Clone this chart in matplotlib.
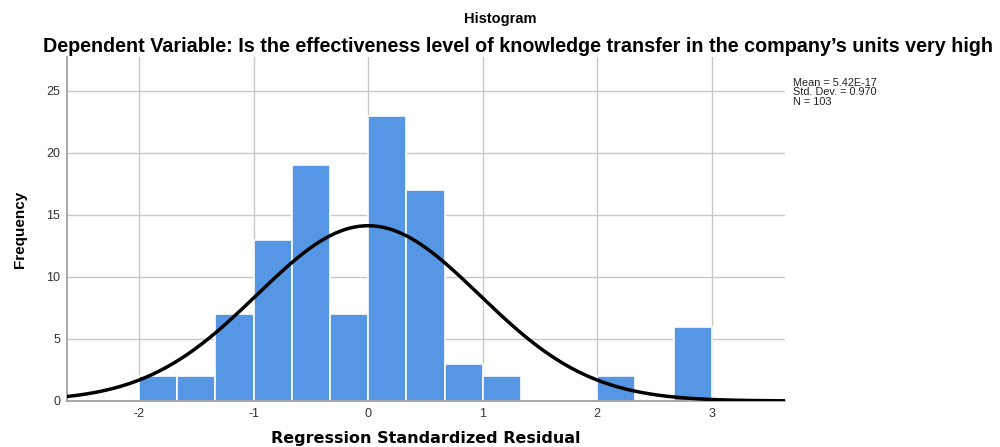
import numpy as np
import matplotlib
matplotlib.use("Agg")
import matplotlib.pyplot as plt

# histogram bins (width 1/3) and counts
bin_edges = np.arange(-2.0, 3.0 + 1e-9, 1.0 / 3.0)
counts = [2, 2, 7, 13, 19, 7, 23, 17, 3, 2, 0, 0, 2, 0, 6]
mean = 5.42e-17
std_dev = 0.970
n = 103
stats_lines = ["Mean = 5.42E-17", "Std. Dev. = 0.970", "N = 103"]

xticks = [-2, -1, 0, 1, 2, 3]
yticks = [0, 5, 10, 15, 20, 25]

plt.rcParams['font.family'] = ['Liberation Sans', 'DejaVu Sans']
plt.rcParams['axes.unicode_minus'] = False

fig = plt.figure(figsize=(10, 4.47), dpi=100)
ax = fig.add_axes([0.067, 0.103, 0.718, 0.769])

ax.set_xlim(-2.63, 3.64)
ax.set_ylim(0, 27.7)
ax.set_xticks(xticks)
ax.set_yticks(yticks)
ax.grid(True, color="#c8c8c8", linewidth=1.0)
ax.set_axisbelow(True)

lefts = bin_edges[:-1]
width = bin_edges[1] - bin_edges[0]
ax.bar(lefts, counts, width=width, align="edge", color="#5596e5",
       edgecolor="white", linewidth=1.2, zorder=2)

# normal curve scaled to counts
xs = np.linspace(-2.63, 3.64, 400)
pdf = np.exp(-0.5 * ((xs - mean) / std_dev) ** 2) / (std_dev * np.sqrt(2 * np.pi))
ax.plot(xs, n * width * pdf, color="black", linewidth=2.5, zorder=3)

for s in ["top", "right"]:
    ax.spines[s].set_visible(False)
for s in ["left", "bottom"]:
    ax.spines[s].set_color("#9a9a9a")
    ax.spines[s].set_linewidth(1.2)
ax.tick_params(length=0, labelsize=9, colors="#333333", pad=5)

ax.set_xlabel("Regression Standardized Residual", fontsize=11.5, fontweight="bold",
              labelpad=8, family="DejaVu Sans")
ax.set_ylabel("Frequency", fontsize=11, fontweight="bold", labelpad=14)

fig.text(0.5, 0.958, "Histogram", ha="center", va="center", fontsize=10.5,
         fontweight="bold")
fig.text(0.518, 0.897, "Dependent Variable: Is the effectiveness level of knowledge transfer in the company\u2019s units very high",
         ha="center", va="center", fontsize=14.2, fontweight="bold")

for i, line in enumerate(stats_lines):
    fig.text(0.793, 1 - (82.5 + 9.7 * i) / 447, line, ha="left", va="center",
             fontsize=7.8, color="#222222")

fig.savefig("out.png", dpi=100)
